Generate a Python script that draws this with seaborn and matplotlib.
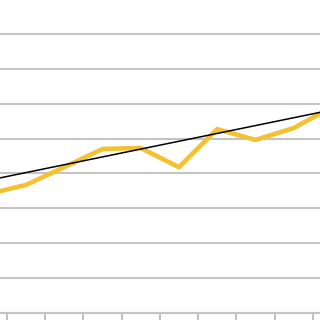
import matplotlib
matplotlib.use("Agg")
import matplotlib.pyplot as plt
import seaborn as sns
import numpy as np
import pandas as pd

# category index (the chart is cropped; -1 and 8 are partly outside the view)
periods = [-1, 0, 1, 2, 3, 4, 5, 6, 7, 8]
values = [3.41, 3.67, 4.18, 4.70, 4.73, 4.18, 5.27, 4.96, 5.30, 5.90]
# linear trend read at first and last period
trend_periods = [-1, 8]
trend_values = [3.80, 5.82]
grid_values = list(range(0, 9))
tick_positions = [-0.5, 0.5, 1.5, 2.5, 3.5, 4.5, 5.5, 6.5, 7.5]

sns.set_style("white")
fig = plt.figure(figsize=(3.2, 3.2), dpi=100)
ax = fig.add_axes([0, 0, 1, 1])

df = pd.DataFrame({"period": periods, "value": values})
tdf = pd.DataFrame({"period": trend_periods, "value": trend_values})

sns.lineplot(data=df, x="period", y="value", ax=ax, color="#F4C130",
             linewidth=3.3, zorder=3, solid_joinstyle="round")
sns.lineplot(data=tdf, x="period", y="value", ax=ax, color="black",
             linewidth=1.1, zorder=4)

ax.set_xlim(-0.68, 7.69)
ax.set_ylim(-0.2, 8.97)
ax.set_yticks(grid_values)
ax.yaxis.grid(True, color="#c4c4c4", linewidth=1.5)
ax.xaxis.grid(False)
ax.set_xticks(tick_positions)
ax.tick_params(axis="x", direction="out", length=5, width=1.2, color="#b4b4b4",
               labelbottom=False, bottom=True)
ax.tick_params(axis="y", left=False, labelleft=False)
for s in ["left", "right", "top"]:
    ax.spines[s].set_visible(False)
ax.spines["bottom"].set_position(("data", 0))
ax.spines["bottom"].set_color("#c4c4c4")
ax.spines["bottom"].set_linewidth(1.5)
ax.set_xlabel("")
ax.set_ylabel("")

fig.savefig("out.png", dpi=100)
